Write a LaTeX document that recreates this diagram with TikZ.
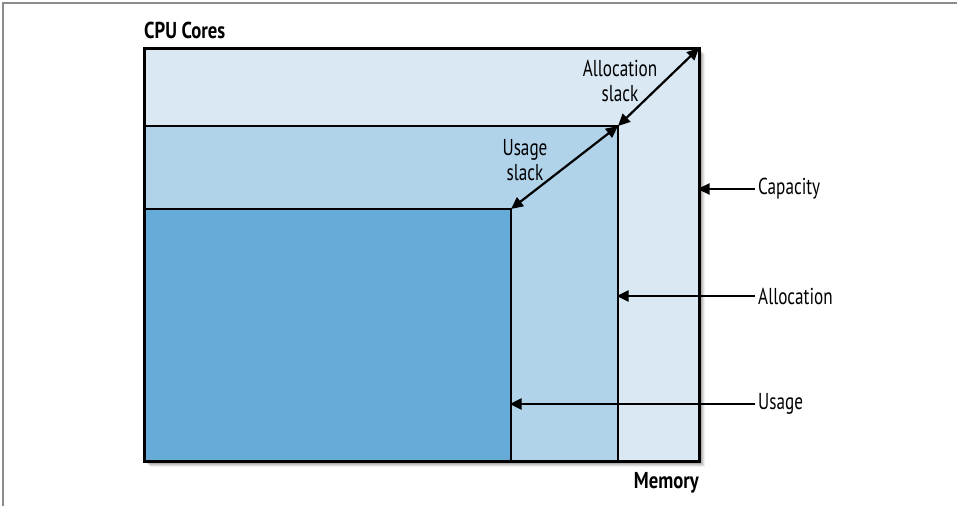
\documentclass[tikz,border=0pt]{standalone}
\usepackage{fontspec}
\setmainfont[FakeStretch=0.746, BoldFeatures={FakeStretch=0.81}]{PT Sans}
\usetikzlibrary{arrows.meta}
\definecolor{capfill}{RGB}{217,232,243}
\definecolor{allocfill}{RGB}{177,211,234}
\definecolor{usefill}{RGB}{102,170,215}
\definecolor{framegray}{RGB}{140,140,140}
\tikzset{
  box/.style={draw, inner sep=0pt, outer sep=0pt, anchor=north west},
  lbl/.style={font=\fontsize{23}{25}\selectfont, inner sep=3pt, align=center},
  ttl/.style={font=\fontsize{23}{25}\selectfont\bfseries, inner sep=0pt},
  arr/.style={line width=2.2pt, -{Triangle[length=12pt,width=11pt]}},
  darr/.style={line width=2.2pt, {Triangle[length=12pt,width=11pt]}-{Triangle[length=12pt,width=11pt]}}
}
\begin{document}
\begin{tikzpicture}[x=1pt,y=-1pt]
\useasboundingbox (0,0) rectangle (957,506);
\draw[framegray, line width=2pt] (3,506) -- (3,3) -- (957,3);
% drop shadow
\foreach \d/\o in {6/0.06,5/0.08,4/0.1,3/0.12,2/0.15}
  \fill[black, opacity=\o] (144+\d,48+\d) rectangle (699+\d,461+\d);
\node[box, fill=capfill, line width=3pt, minimum width=555pt, minimum height=413pt] (cap) at (144,48) {};
\node[box, fill=allocfill, line width=2.8pt, minimum width=474pt, minimum height=335pt] (alloc) at (144,126) {};
\node[box, fill=usefill, line width=2.8pt, minimum width=367pt, minimum height=252pt] (usage) at (144,209) {};
\draw[line width=3pt] (cap.north west) rectangle (cap.south east);
% titles
\node[ttl, anchor=west] (cpu) at (144,30) {CPU Cores};
\node[ttl, anchor=east] (mem) at (699,483) {Memory};
% side labels
\node[lbl, anchor=west] (capl) at (755,189) {Capacity};
\node[lbl, anchor=west] (allocl) at (755,296) {Allocation};
\node[lbl, anchor=west] (usel) at (755,404) {Usage};
\draw[arr, shorten >=-1.5pt] (capl.west) -- (capl.west -| cap.east);
\draw[arr, shorten >=-1.4pt] (allocl.west) -- (allocl.west -| alloc.east);
\draw[arr, shorten >=-1.4pt] (usel.west) -- (usel.west -| usage.east);
% slack arrows
\draw[darr] (usage.north east) -- (alloc.north east);
\draw[darr] (alloc.north east) -- (cap.north east);
\node[lbl] (uslack) at (525,160) {Usage\\slack};
\node[lbl] (aslack) at (620,81) {Allocation\\slack};
\end{tikzpicture}
\end{document}
